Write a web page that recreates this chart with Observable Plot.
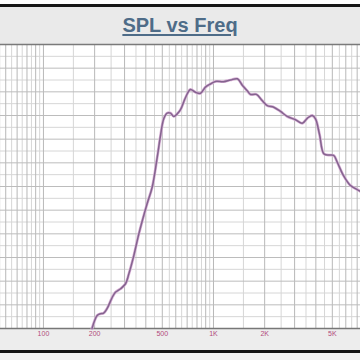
<!DOCTYPE html>
<html><head><meta charset="utf-8">
<script src="https://cdn.jsdelivr.net/npm/d3@7"></script>
<script src="https://cdn.jsdelivr.net/npm/@observablehq/plot@0.6"></script>
<style>
html,body{margin:0;padding:0}
body{width:360px;height:360px;overflow:hidden;background:#ededed;position:relative;font-family:"Liberation Sans",Arial,sans-serif}
.abs{position:absolute;left:0;width:360px}
#w{top:0;height:4px;background:#fff}
#b1{top:4px;height:3px;background:#161616}
#band{top:7px;height:37px;background:#eaeaea}
#title{top:15px;height:20px;line-height:20px;text-align:center;font-size:20px;font-weight:bold;color:#4e6c88;}
#title span{text-decoration:underline;text-decoration-thickness:2px;text-underline-offset:2px}
#chart{top:44px;height:306px}
#b2{top:350px;height:3px;background:#161616}
#bot{top:353px;height:7px;background:#f3f3f3}
</style>
</head><body>
<div class="abs" id="w"></div>
<div class="abs" id="b1"></div>
<div class="abs" id="band"></div>
<div class="abs" id="title"><span>SPL vs Freq</span></div>
<div class="abs" id="chart"></div>
<div class="abs" id="b2"></div>
<div class="abs" id="bot"></div>
<script>
// Frequency response (Hz) and relative SPL
const freq = [193, 207, 216, 226, 237, 254, 265, 284, 304, 318, 340, 364, 407, 436, 467, 488, 510, 534, 559, 584, 612, 640, 685, 732, 784, 839, 897, 960, 1028, 1145, 1259, 1384, 1481, 1585, 1651, 1790, 1934, 2070, 2263, 2479, 2714, 3037, 3325, 3572, 3807, 3981, 4203, 4455, 4748, 5101, 5341, 5818, 6396, 7003, 7323];
const spl  = [0, 5.5, 6.2, 6.5, 8.5, 13.2, 15.3, 16.8, 18.9, 23.1, 30.8, 40.0, 52.7, 59.7, 72.4, 81.5, 88.6, 91.0, 91.0, 89.6, 90.7, 92.5, 97.6, 101.0, 99.8, 99.4, 102.0, 103.3, 104.4, 104.3, 105.0, 105.5, 102.7, 100.3, 98.9, 98.9, 96.3, 94.2, 93.5, 91.7, 89.6, 88.2, 86.7, 88.9, 90.0, 88.6, 82.0, 73.8, 73.3, 73.1, 70.3, 64.6, 60.4, 58.7, 57.9];
const tickValues = [100, 200, 500, 1000, 2000, 5000];
const tickLabels = ["100", "200", "500", "1K", "2K", "5K"];

const xDomain = [55.9, 7323];
const yDomain = [0, 120];

const data = freq.map((f, i) => ({f, v: spl[i]}));

// grid lines: half steps within each decade
const gridX = [];
for (const d of [10, 100, 1000]) for (let k = 2; k < 20; k++) {
  const v = k * d / 2;
  if (v > xDomain[0] && v < xDomain[1]) gridX.push({v, major: k % 2 === 0});
}
const gridY = d3.range(5, 120, 5).map(v => ({v, major: v % 10 === 0}));

const chart = Plot.plot({
  width: 360, height: 306,
  marginTop: 0, marginLeft: 0, marginRight: 0, marginBottom: 22,
  style: {background: "transparent", overflow: "visible"},
  x: {type: "log", domain: xDomain},
  y: {domain: yDomain, axis: null},
  marks: [
    Plot.frame({fill: "white", stroke: null}),
    Plot.ruleX(gridX.filter(d => !d.major), {x: "v", stroke: "#d6d6d6", strokeWidth: 1}),
    Plot.ruleY(gridY.filter(d => !d.major), {y: "v", stroke: "#d6d6d6", strokeWidth: 1}),
    Plot.ruleX(gridX.filter(d => d.major), {x: "v", stroke: "#b8b8b8", strokeWidth: 1}),
    Plot.ruleY(gridY.filter(d => d.major), {y: "v", stroke: "#bcbcbc", strokeWidth: 1}),
    Plot.ruleY([yDomain[1]], {stroke: "#7a7a7a", strokeWidth: 1.5}),
    Plot.ruleY([yDomain[0]], {stroke: "#777", strokeWidth: 1.5}),
    Plot.line(data, {x: "f", y: "v", stroke: "#d8b0d6", strokeWidth: 2.8, curve: "catmull-rom"}),
    Plot.line(data, {x: "f", y: "v", stroke: "#84648f", strokeWidth: 1.5, curve: "catmull-rom"}),
    Plot.axisX({ticks: tickValues, tickFormat: d => tickLabels[tickValues.indexOf(d)], tickSize: 0, tickPadding: 3, fontSize: 7, fill: "#b24a7c", fontFamily: "Liberation Sans, Arial, sans-serif"})
  ]
});
document.getElementById("chart").appendChild(chart);
</script>
</body></html>
